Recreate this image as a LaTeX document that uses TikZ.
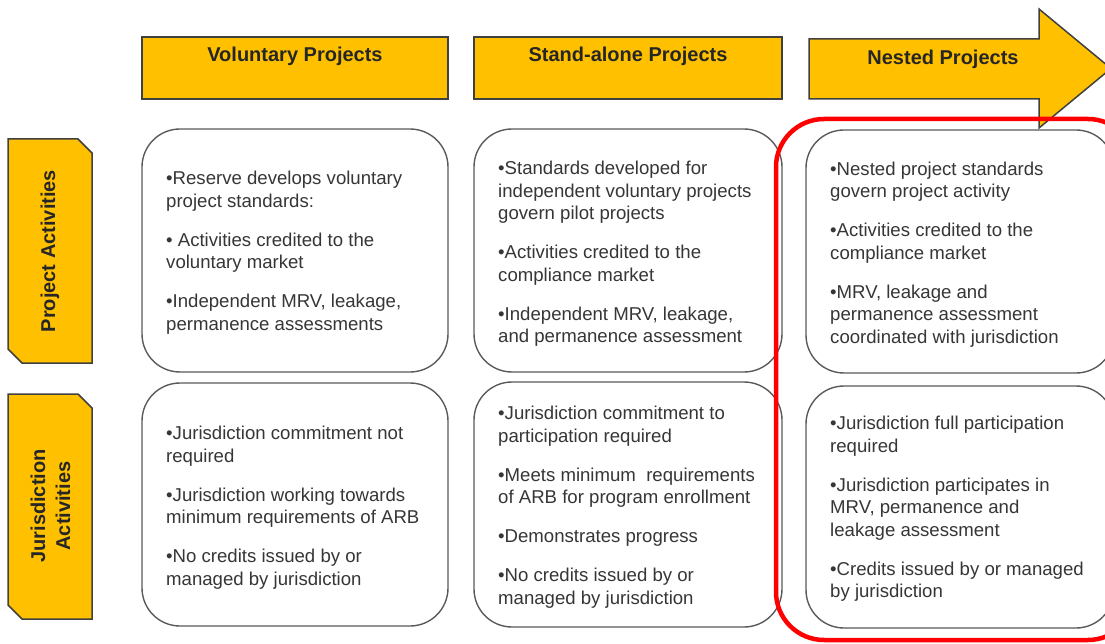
\documentclass[tikz,border=0pt]{standalone}
\usepackage{fontspec}
\setmainfont{Liberation Sans}
\definecolor{gold}{HTML}{FFC000}
\definecolor{edge}{HTML}{404040}
\definecolor{boxedge}{HTML}{5A5A5A}
\definecolor{bodytext}{HTML}{363636}
\definecolor{hilite}{HTML}{FF0000}
\begin{document}
\begin{tikzpicture}[x=1pt,y=-1pt,
  hdr/.style={draw=edge, fill=gold, line width=1.5pt},
  hdrbox/.style={hdr, rectangle, minimum width=306pt, minimum height=62pt, inner sep=0pt},
  hdrtext/.style={font=\fontsize{20}{25}\selectfont\bfseries, text=black!85, inner sep=0pt},
  cbox/.style={draw=boxedge, fill=white, line width=1.4pt, rounded corners=38pt, rectangle, inner sep=0pt},
  btext/.style={font=\fontsize{18.6}{22.5}\selectfont, text=bodytext, align=left, anchor=north west, inner sep=0pt},
  focus/.style={draw=hilite, line width=4.5pt, rounded corners=48pt, rectangle, inner sep=0pt}]
\useasboundingbox (0,0) rectangle (1105,644);

% column headers
\node[hdrbox] (volbox) at (295,68) {};
\node[hdrtext] (voltxt) at (295,56.5) {Voluntary Projects};
\node[hdrbox, minimum width=308pt] (stdbox) at (628,68) {};
\node[hdrtext] (stdtxt) at (628,56.5) {Stand-alone Projects};
\draw[hdr] (809,39) -- (1039,39) -- (1039,9) -- (1111,68.5) -- (1039,128) -- (1039,99) -- (809,99) -- cycle;
\node[hdrtext] (nesttxt) at (943,59.5) {Nested Projects};

% row labels
\draw[hdr] (8,139) -- (78,139) -- (92,153) -- (92,363) -- (22,363) -- (8,349) -- cycle;
\node[hdrtext, rotate=90] (pa) at (50,251) {Project Activities};
\draw[hdr] (8,394) -- (78,394) -- (92,408) -- (92,619) -- (22,619) -- (8,605) -- cycle;
\node[hdrtext, rotate=90, align=center] (ja) at (50.5,506) {Jurisdiction\\Activities};

% content boxes
\node[cbox, minimum width=306pt, minimum height=243pt] (r1c1) at (295,250.5) {};
\node[cbox, minimum width=308pt, minimum height=243pt] (r1c2) at (628,250.5) {};
\node[cbox, minimum width=306pt, minimum height=243pt] (r2c1) at (295,504.5) {};
\node[cbox, minimum width=308pt, minimum height=245pt] (r2c2) at (628,504.5) {};
\node[cbox, minimum width=308pt, minimum height=243pt] (r1c3) at (960,251.5) {};
\node[cbox, minimum width=308pt, minimum height=242pt] (r2c3) at (960,507) {};

\node[btext] (t11) at (166,171) {•Reserve develops voluntary\\project standards:\\[16.5pt]• Activities credited to the\\voluntary market\\[16.5pt]•Independent MRV, leakage,\\permanence assessments};
\node[btext] (t12) at (498,161) {•Standards developed for\\independent voluntary projects\\govern pilot projects\\[16.5pt]•Activities credited to the\\compliance market\\[16.5pt]•Independent MRV, leakage,\\and permanence assessment};
\node[btext] (t13) at (830,161.5) {•Nested project standards\\govern project activity\\[16.5pt]•Activities credited to the\\compliance market\\[16.5pt]•MRV, leakage and\\permanence assessment\\coordinated with jurisdiction};
\node[btext] (t21) at (166,426) {•Jurisdiction commitment not\\required\\[16.5pt]•Jurisdiction working towards\\minimum requirements of ARB\\[16.5pt]•No credits issued by or\\managed by jurisdiction};
\node[btext] (t22) at (498,406) {•Jurisdiction commitment to\\participation required\\[16.5pt]•Meets minimum~ requirements\\of ARB for program enrollment\\[16.5pt]•Demonstrates progress\\[16.5pt]•No credits issued by or\\managed by jurisdiction};
\node[btext] (t23) at (830,416) {•Jurisdiction full participation\\required\\[16.5pt]•Jurisdiction participates in\\MRV, permanence and\\leakage assessment\\[16.5pt]•Credits issued by or managed\\by jurisdiction};

% highlight
\node[focus, minimum width=360pt, minimum height=521pt] (nestfocus) at (956,379.5) {};
\end{tikzpicture}
\end{document}
